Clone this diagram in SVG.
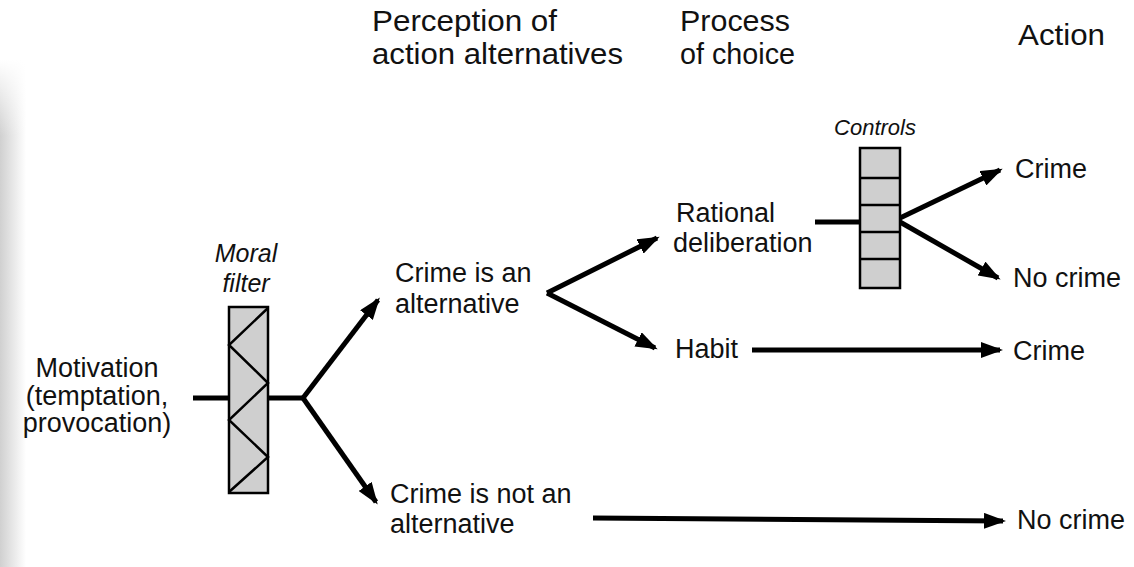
<svg xmlns="http://www.w3.org/2000/svg" width="1134" height="567" viewBox="0 0 1134 567">
<defs>
<style>
text{font-family:"Liberation Sans",Arial,sans-serif;fill:#111;}
.h{font-size:29px;}
.t{font-size:27px;}
.i{font-size:25px;font-style:italic;}
.c{font-size:22px;font-style:italic;}
.ln{stroke:#000;stroke-width:5;fill:none;}
.arr{stroke:#000;stroke-width:5;fill:none;marker-end:url(#ah);}
.box{fill:#cfcfcf;stroke:#000;stroke-width:2.5;}
.thin{stroke:#000;stroke-width:2.5;fill:none;}
</style>
<marker id="ah" markerUnits="userSpaceOnUse" markerWidth="22" markerHeight="16" refX="19" refY="8" orient="auto">
<path d="M0,0 L22,8 L0,16 z" fill="#000"/>
</marker>
<linearGradient id="shade" x1="0" y1="0" x2="1" y2="0">
<stop offset="0" stop-color="#d0d0d0"/>
<stop offset="1" stop-color="#ffffff"/>
</linearGradient>
<linearGradient id="fadeTop" x1="0" y1="0" x2="0" y2="1">
<stop offset="0" stop-color="#fff" stop-opacity="1"/>
<stop offset="0.15" stop-color="#fff" stop-opacity="0"/>
</linearGradient>
</defs>
<rect x="0" y="0" width="1134" height="567" fill="#fff"/>
<rect x="0" y="60" width="26" height="507" fill="url(#shade)"/>
<rect x="0" y="60" width="26" height="507" fill="url(#fadeTop)"/>

<g id="headers">
<text class="h" x="372" y="31" textLength="185" lengthAdjust="spacingAndGlyphs">Perception of</text>
<text class="h" x="372" y="64" textLength="251" lengthAdjust="spacingAndGlyphs">action alternatives</text>
<text class="h" x="680" y="31" textLength="110" lengthAdjust="spacingAndGlyphs">Process</text>
<text class="h" x="680" y="64" textLength="115" lengthAdjust="spacingAndGlyphs">of choice</text>
<text class="h" x="1018" y="45" textLength="87" lengthAdjust="spacingAndGlyphs">Action</text>
</g>

<g id="connectors">
<line class="ln" x1="193" y1="398" x2="303" y2="398"/>
<line class="arr" x1="303" y1="398" x2="378" y2="300"/>
<line class="arr" x1="303" y1="398" x2="376" y2="502"/>
<line class="arr" x1="547" y1="293" x2="657" y2="238"/>
<line class="arr" x1="547" y1="293" x2="655" y2="348"/>
<line class="ln" x1="815" y1="222" x2="860" y2="222"/>
<line class="arr" x1="900" y1="218" x2="1000" y2="170"/>
<line class="arr" x1="900" y1="222" x2="998" y2="278"/>
<line class="arr" x1="752" y1="350" x2="1000" y2="350"/>
<line class="arr" x1="593" y1="518" x2="1003" y2="521"/>
</g>

<g id="motivation">
<text class="t" x="97" y="377" text-anchor="middle">Motivation</text>
<text class="t" x="97" y="405" text-anchor="middle">(temptation,</text>
<text class="t" x="97" y="432" text-anchor="middle">provocation)</text>
</g>

<g id="moral-filter">
<text class="i" x="246" y="262" text-anchor="middle">Moral</text>
<text class="i" x="246" y="292" text-anchor="middle">filter</text>
<rect class="box" x="229" y="307" width="39" height="186"/>
<polyline class="thin" points="268,308 229,345 268,383 229,420 268,457 229,492"/>
</g>

<g id="crime-alt">
<text class="t" x="395" y="282">Crime is an</text>
<text class="t" x="395" y="313">alternative</text>
</g>

<g id="crime-not-alt">
<text class="t" x="390" y="503">Crime is not an</text>
<text class="t" x="390" y="533">alternative</text>
</g>

<g id="rational">
<text class="t" x="676" y="222">Rational</text>
<text class="t" x="673" y="252">deliberation</text>
</g>

<g id="habit">
<text class="t" x="675" y="358">Habit</text>
</g>

<g id="controls">
<text class="c" x="875" y="135" text-anchor="middle">Controls</text>
<rect class="box" x="860" y="148" width="40" height="140"/>
<line class="thin" x1="860" y1="178" x2="900" y2="178"/>
<line class="thin" x1="860" y1="205" x2="900" y2="205"/>
<line class="thin" x1="860" y1="232" x2="900" y2="232"/>
<line class="thin" x1="860" y1="259" x2="900" y2="259"/>
</g>

<g id="action-crime-1"><text class="t" x="1015" y="178">Crime</text></g>
<g id="action-nocrime-1"><text class="t" x="1013" y="287">No crime</text></g>
<g id="action-crime-2"><text class="t" x="1013" y="360">Crime</text></g>
<g id="action-nocrime-2"><text class="t" x="1017" y="529">No crime</text></g>
</svg>
